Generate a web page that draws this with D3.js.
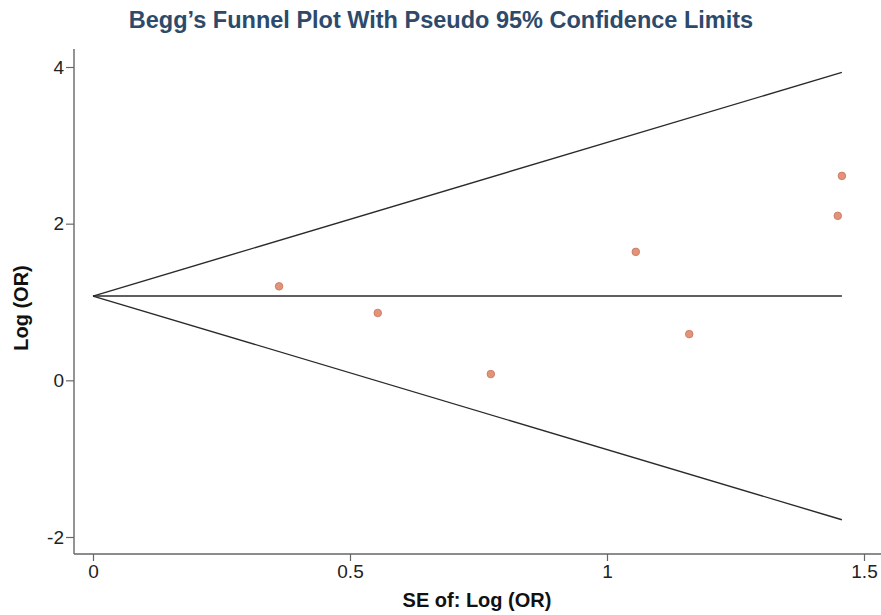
<!DOCTYPE html>
<html>
<head>
<meta charset="utf-8">
<script src="https://cdn.jsdelivr.net/npm/d3@7"></script>
<style>
  body { margin: 0; background: #fff; }
  svg { display: block; }
  text { font-family: "Liberation Sans", Arial, Helvetica, sans-serif; }
</style>
</head>
<body>
<svg id="chart" width="881" height="615"></svg>
<script>
// Study estimates: standard error and log odds ratio
const studySE    = [0.362, 0.554, 0.774, 1.056, 1.160, 1.449, 1.457];
const studyLogOR = [1.20, 0.86, 0.08, 1.64, 0.59, 2.10, 2.61];
const pooledLogOR = 1.076;
const xTicks = [0, 0.5, 1, 1.5];
const yTicks = [-2, 0, 2, 4];

const svg = d3.select("#chart");

const x = d3.scaleLinear().domain([0, 1.5]).range([93, 864]);
const y = d3.scaleLinear().domain([-2, 4]).range([537, 67]);

const axisColor = "#666";

// Left axis
const yAxis = svg.append("g")
  .attr("transform", "translate(74,0)")
  .call(d3.axisLeft(y).tickValues(yTicks).tickSize(8).tickPadding(2)
    .tickFormat(d => String(d).replace("\u2212", "-")));
yAxis.select(".domain").remove();
yAxis.append("line").attr("x1", 0).attr("x2", 0).attr("y1", 49).attr("y2", 554)
  .attr("stroke", axisColor).attr("stroke-width", 1.4);

// Bottom axis
const xAxis = svg.append("g")
  .attr("transform", "translate(0,554)")
  .call(d3.axisBottom(x).tickValues(xTicks).tickSize(7).tickPadding(4).tickFormat(d => String(d)));
xAxis.select(".domain").remove();
xAxis.append("line").attr("x1", 74).attr("x2", 881).attr("y1", 0).attr("y2", 0)
  .attr("stroke", axisColor).attr("stroke-width", 1.4);

svg.selectAll(".tick line").attr("stroke", axisColor).attr("stroke-width", 1.2);
svg.selectAll(".tick text").attr("font-size", 19).attr("fill", "#222")
  .attr("font-family", "'Liberation Sans', Arial, sans-serif");

// Pseudo 95% confidence limits
const maxSE = d3.max(studySE);
const lineColor = "#2a2a2a";
const limits = [
  [[0, pooledLogOR], [maxSE, pooledLogOR + 1.96 * maxSE]],
  [[0, pooledLogOR], [maxSE, pooledLogOR]],
  [[0, pooledLogOR], [maxSE, pooledLogOR - 1.96 * maxSE]]
];
const line = d3.line().x(d => x(d[0])).y(d => y(d[1]));
svg.append("g").selectAll("path").data(limits).join("path")
  .attr("d", line)
  .attr("fill", "none")
  .attr("stroke", lineColor)
  .attr("stroke-width", 1.4);

// Study points
svg.append("g").selectAll("circle").data(studySE.map((s, i) => [s, studyLogOR[i]])).join("circle")
  .attr("cx", d => x(d[0]))
  .attr("cy", d => y(d[1]))
  .attr("r", 3.8)
  .attr("fill", "#e39378")
  .attr("stroke", "#c4755e")
  .attr("stroke-width", 0.8);

// Title
svg.append("text")
  .attr("x", 441).attr("y", 28)
  .attr("text-anchor", "middle")
  .attr("font-size", 23.5).attr("font-weight", "bold")
  .attr("fill", "#2d4a6b")
  .text("Begg\u2019s Funnel Plot With Pseudo 95% Confidence Limits");

// Axis titles
svg.append("text")
  .attr("x", 477).attr("y", 607)
  .attr("text-anchor", "middle")
  .attr("font-size", 20).attr("font-weight", "bold")
  .attr("fill", "#111")
  .text("SE of: Log (OR)");

svg.append("text")
  .attr("transform", "translate(28,308) rotate(-90)")
  .attr("text-anchor", "middle")
  .attr("font-size", 20).attr("font-weight", "bold")
  .attr("fill", "#111")
  .text("Log (OR)");
</script>
</body>
</html>
